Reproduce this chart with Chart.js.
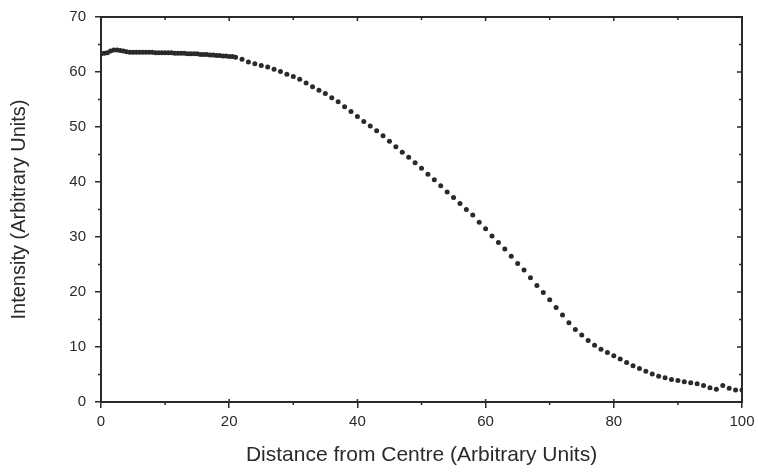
<!DOCTYPE html>
<html>
<head>
<meta charset="utf-8">
<script src="https://cdn.jsdelivr.net/npm/chart.js@4.4.1/dist/chart.umd.min.js"></script>
<style>
    html, body { margin: 0; padding: 0; background: #fff; }
    #holder { width: 758px; height: 474px; }
</style>
</head>
<body>
<div id="holder"><canvas id="c1"></canvas></div>
<script>
// values
var distance = [
    0, 0.5, 1, 1.5, 2, 2.5, 3, 3.5, 4, 4.5, 5, 5.5, 6, 6.5, 7, 7.5, 8, 8.5, 9, 9.5,
    10, 10.5, 11, 11.5, 12, 12.5, 13, 13.5, 14, 14.5, 15, 15.5, 16, 16.5, 17, 17.5,
    18, 18.5, 19, 19.5, 20, 20.5, 21,
    22, 23, 24, 25, 26, 27, 28, 29, 30, 31, 32, 33, 34, 35, 36, 37, 38, 39, 40,
    41, 42, 43, 44, 45, 46, 47, 48, 49, 50, 51, 52, 53, 54, 55, 56, 57, 58, 59, 60,
    61, 62, 63, 64, 65, 66, 67, 68, 69, 70, 71, 72, 73, 74, 75, 76, 77, 78, 79, 80,
    81, 82, 83, 84, 85, 86, 87, 88, 89, 90, 91, 92, 93, 94, 95, 96, 97, 98, 99, 100
];
var intensity = [
    63.3, 63.4, 63.5, 63.8, 64.0, 64.0, 63.9, 63.8, 63.7, 63.6, 63.6, 63.6, 63.6, 63.6, 63.6, 63.6, 63.6, 63.5, 63.5, 63.5,
    63.5, 63.5, 63.5, 63.4, 63.4, 63.4, 63.4, 63.3, 63.3, 63.3, 63.3, 63.2, 63.2, 63.2, 63.1, 63.1,
    63.0, 63.0, 62.9, 62.9, 62.8, 62.8, 62.7,
    62.3, 61.8, 61.5, 61.2, 60.9, 60.5, 60.1, 59.6, 59.2, 58.7, 58.0, 57.3, 56.7, 56.1, 55.3, 54.6, 53.7, 52.8, 51.9,
    51.0, 50.2, 49.3, 48.4, 47.4, 46.4, 45.4, 44.5, 43.5, 42.5, 41.4, 40.4, 39.3, 38.2, 37.2, 36.1, 35.0, 34.0, 32.7, 31.5,
    30.2, 29.0, 27.8, 26.5, 25.2, 24.0, 22.6, 21.2, 19.9, 18.6, 17.2, 15.8, 14.4, 13.2, 12.2, 11.2, 10.3, 9.6, 9.0, 8.4,
    7.8, 7.2, 6.6, 6.1, 5.6, 5.1, 4.7, 4.4, 4.1, 3.9, 3.7, 3.5, 3.3, 3.0, 2.6, 2.3, 3.0, 2.5, 2.2, 2.2
];
var xTicks = [0, 20, 40, 60, 80, 100];
var yTicks = [0, 10, 20, 30, 40, 50, 60, 70];
var xMinor = [10, 30, 50, 70, 90];
var yMinor = [5, 15, 25, 35, 45, 55, 65];

var ink = '#2a2a2a';

// frame and the little ticks the library does not draw (top, right, minors)
var frameTicks = {
    id: 'frameTicks',
    afterDraw(chart) {
        let ctx = chart.ctx;
        let a = chart.chartArea;
        let sx = chart.scales.x, sy = chart.scales.y;
        ctx.save();
        ctx.strokeStyle = ink;
        ctx.lineWidth = 2;
        ctx.strokeRect(a.left, a.top, a.right - a.left, a.bottom - a.top);
        ctx.lineWidth = 1.5;
        ctx.beginPath();
        for(let i=0; i<yMinor.length; i++) {
            let p = sy.getPixelForValue(yMinor[i]);
            ctx.moveTo(a.left - 3, p); ctx.lineTo(a.left, p);
            ctx.moveTo(a.right - 3, p); ctx.lineTo(a.right, p);
        }
        for(let i=0; i<yTicks.length; i++) {
            let p = sy.getPixelForValue(yTicks[i]);
            ctx.moveTo(a.right - 5, p); ctx.lineTo(a.right, p);
        }
        for(let i=0; i<xMinor.length; i++) {
            let p = sx.getPixelForValue(xMinor[i]);
            ctx.moveTo(p, a.bottom); ctx.lineTo(p, a.bottom + 3);
            ctx.moveTo(p, a.top); ctx.lineTo(p, a.top + 3);
        }
        for(let i=0; i<xTicks.length; i++) {
            let p = sx.getPixelForValue(xTicks[i]);
            ctx.moveTo(p, a.bottom - 3); ctx.lineTo(p, a.bottom);
            ctx.moveTo(p, a.top); ctx.lineTo(p, a.top + 4);
        }
        ctx.stroke();
        ctx.restore();
    }
};

function start() {
    let canvas1 = document.getElementById("c1");
    let points = [];
    for(let i=0; i<distance.length; i++)
        points.push({x: distance[i], y: intensity[i]});

    Chart.defaults.font.family = "'Liberation Sans', Arial, sans-serif";
    Chart.defaults.color = ink;

    new Chart(canvas1, {
        type: 'scatter',
        data: {
            datasets: [{
                data: points,
                backgroundColor: ink,
                borderColor: ink,
                pointRadius: 2.5,
                pointBorderWidth: 0
            }]
        },
        options: {
            responsive: true,
            maintainAspectRatio: false,
            animation: false,
            layout: { padding: { left: 0, right: 16, top: 17, bottom: 0 } },
            plugins: { legend: { display: false }, tooltip: { enabled: false } },
            scales: {
                x: {
                    type: 'linear', min: 0, max: 100,
                    afterFit: (s) => { s.height = 72; s.paddingLeft = 0; s.paddingRight = 0; },
                    afterBuildTicks: (s) => { s.ticks = xTicks.map(v => ({value: v})); },
                    grid: { display: true, drawOnChartArea: false, tickLength: 6, color: ink, lineWidth: 1.5 },
                    border: { display: false },
                    ticks: { font: { size: 15 }, padding: 5, maxRotation: 0 },
                    title: { display: true, text: 'Distance from Centre (Arbitrary Units)', font: { size: 21 }, padding: { top: 4, bottom: 6 } }
                },
                y: {
                    type: 'linear', min: 0, max: 70,
                    afterFit: (s) => { s.width = 101; s.paddingTop = 0; s.paddingBottom = 0; },
                    afterBuildTicks: (s) => { s.ticks = yTicks.map(v => ({value: v})); },
                    grid: { display: true, drawOnChartArea: false, tickLength: 6, color: ink, lineWidth: 1.5 },
                    border: { display: false },
                    ticks: { font: { size: 15 }, padding: 9 },
                    title: { display: true, text: 'Intensity (Arbitrary Units)', font: { size: 20 }, padding: { top: 7, bottom: 0 } }
                }
            }
        },
        plugins: [frameTicks]
    });
}

start();
</script>
</body>
</html>
